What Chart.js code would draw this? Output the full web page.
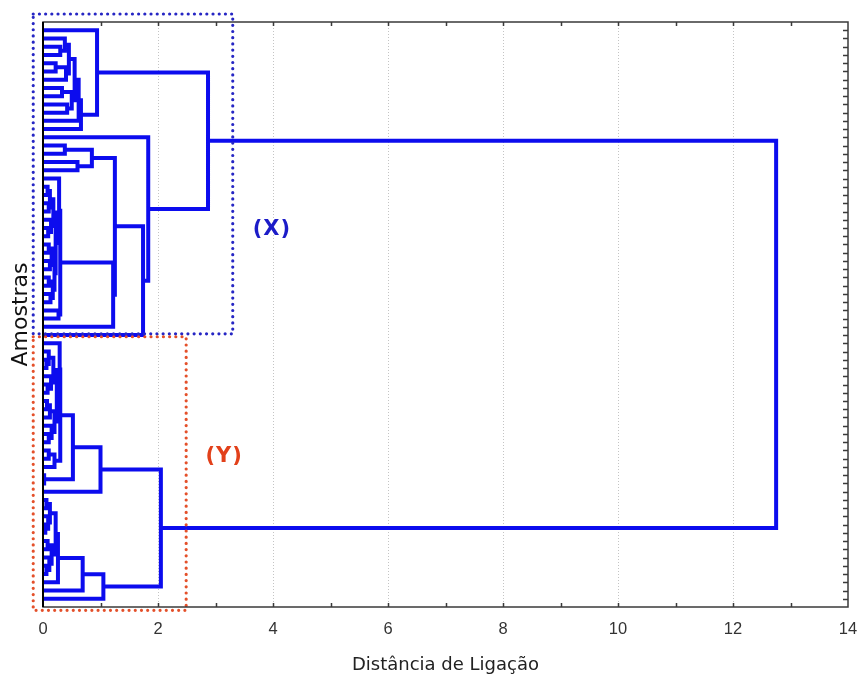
<!DOCTYPE html>
<html>
<head>
<meta charset="utf-8">
<script src="https://cdn.jsdelivr.net/npm/chart.js@4.4.1/dist/chart.umd.min.js"></script>
<style>
  html, body { margin: 0; padding: 0; background: #ffffff; }
  #wrap { width: 858px; height: 677px; }
</style>
</head>
<body>
<div id="wrap"><canvas id="dendro" width="858" height="677"></canvas></div>
<script>
// Linkage tree: a node is [linkage distance, upper branch, lower branch]; 0 is one sample.
const branchA = [0.94, 0, [0.66, [0.62, [0.55,
  [0.45, [0.38, 0, [0.30, 0, 0]], [0.40, [0.22, 0, 0], 0]],
  [0.50, [0.33, 0, 0], [0.42, 0, 0]]], 0], 0]];

const branchB = [1.83, 0, [1.74, [1.25,
  [0.85, [0.38, 0, 0], [0.60, 0, 0]],
  [1.22, [0.30, [0.28, 0, [0.22,
      [0.18, [0.12, [0.08, 0, 0], [0.10, 0, 0]], [0.14, 0, [0.09, 0, 0]]],
      [0.20, [0.15, [0.10, 0, 0], [0.12, 0, 0]], [0.17, [0.10, 0, 0], [0.13, 0, 0]]]]],
    [0.27, 0, 0]], 0]], 0]];

const branchC = [1.00, [0.52, [0.30,
  [0.29, 0, [0.24,
    [0.18, [0.10, 0, [0.06, 0, 0]], [0.14, 0, [0.08, 0, 0]]],
    [0.20, [0.12, [0.07, 0, 0], 0], [0.15, 0, [0.10, 0, 0]]]]],
  [0.20, [0.10, 0, 0], 0]], [0.02, 0, 0]], 0];

const branchD = [1.05, [0.69, [0.26, [0.22,
  [0.12, [0.06, 0, 0], [0.09, 0, [0.04, 0, 0]]],
  [0.15, [0.08, 0, 0], [0.11, 0, [0.06, 0, 0]]]], 0], 0], 0];

const groupX = [2.87, branchA, branchB];
const groupY = [2.05, branchC, branchD];
const fullTree = [12.75, groupX, groupY];

const xTickValues = [0, 2, 4, 6, 8, 10, 12, 14];
const groupNames = ['(X)', '(Y)'];

// Walk the tree: samples get consecutive rows, each merge sits halfway between its branches.
function layoutTree(root) {
  let row = 1;
  const links = [];
  function walk(node) {
    if (!Array.isArray(node)) return { h: 0, y: row++ };
    const [h, upper, lower] = node;
    const a = walk(upper);
    const b = walk(lower);
    links.push([
      { x: a.h, y: a.y }, { x: h, y: a.y },
      { x: h, y: b.y }, { x: b.h, y: b.y }
    ]);
    return { h, y: (a.y + b.y) / 2 };
  }
  walk(root);
  return { links, leaves: row - 1 };
}

const tree = layoutTree(fullTree);
const linkPoints = [];
tree.links.forEach(l => {
  linkPoints.push(...l);
  linkPoints.push({ x: l[3].x, y: null });
});

const BLUE = '#0c0cee';
const FRAME = '#3a3a3a';

// Frame, inward ticks, group outlines and group captions
const decorations = {
  id: 'decorations',
  afterDraw(chart) {
    const { ctx, chartArea: a, scales: { x, y } } = chart;
    ctx.save();
    // group outlines (dotted)
    const boxes = [
      { x0: -0.17, x1: 3.30, y0: -0.97, y1: 37.85, color: '#2626c4' },
      { x0: -0.17, x1: 2.49, y0: 38.2, y1: 71.4, color: '#e4502a' }
    ];
    boxes.forEach(b => {
      const l = x.getPixelForValue(b.x0), r = x.getPixelForValue(b.x1);
      const t = y.getPixelForValue(b.y0), bt = y.getPixelForValue(b.y1);
      ctx.strokeStyle = b.color;
      ctx.lineWidth = 3.2;
      ctx.lineCap = 'round';
      ctx.setLineDash([0, 6.2]);
      ctx.beginPath();
      ctx.moveTo(l, t); ctx.lineTo(r, t); ctx.lineTo(r, bt); ctx.lineTo(l, bt); ctx.closePath();
      ctx.stroke();
    });
    ctx.setLineDash([]);
    ctx.lineCap = 'butt';

    // frame
    ctx.strokeStyle = FRAME;
    ctx.lineWidth = 1.5;
    ctx.strokeRect(a.left, a.top, a.right - a.left, a.bottom - a.top);
    ctx.strokeStyle = '#000';
    ctx.lineWidth = 2;
    ctx.beginPath();
    ctx.moveTo(a.left, a.top); ctx.lineTo(a.left, a.bottom);
    ctx.stroke();

    // minor ticks on top and bottom, one per unit
    ctx.strokeStyle = FRAME;
    ctx.lineWidth = 1.5;
    ctx.beginPath();
    for (let v = x.min + 1; v < x.max; v++) {
      const px = Math.round(x.getPixelForValue(v)) + 0.5;
      ctx.moveTo(px, a.top); ctx.lineTo(px, a.top + 4);
      ctx.moveTo(px, a.bottom); ctx.lineTo(px, a.bottom - 4);
    }
    // one tick per sample on the right edge
    for (let r = 1; r <= tree.leaves; r++) {
      const py = Math.round(y.getPixelForValue(r)) + 0.5;
      ctx.moveTo(a.right, py); ctx.lineTo(a.right - 5, py);
    }
    ctx.stroke();

    // captions
    ctx.font = 'bold 21px "DejaVu Sans"';
    ctx.letterSpacing = '1px';
    ctx.textAlign = 'center';
    ctx.textBaseline = 'middle';
    ctx.fillStyle = '#1c1cc8';
    ctx.fillText(groupNames[0], x.getPixelForValue(3.98), y.getPixelForValue(25.2));
    ctx.fillStyle = '#e2401a';
    ctx.fillText(groupNames[1], x.getPixelForValue(3.15), y.getPixelForValue(52.7));
    ctx.restore();
  }
};

new Chart(document.getElementById('dendro'), {
  type: 'line',
  data: {
    datasets: [{
      data: linkPoints,
      borderColor: BLUE,
      borderWidth: 4,
      pointRadius: 0,
      tension: 0,
      spanGaps: false,
      borderJoinStyle: 'miter',
      borderCapStyle: 'butt',
      fill: false
    }]
  },
  options: {
    responsive: false,
    animation: false,
    events: [],
    layout: { padding: { top: 22, right: 10, left: 0, bottom: 0 } },
    plugins: { legend: { display: false }, tooltip: { enabled: false } },
    scales: {
      x: {
        type: 'linear',
        min: 0,
        max: 14,
        afterBuildTicks(scale) { scale.ticks = xTickValues.map(v => ({ value: v })); },
        afterFit(scale) {
          scale.height = 70;
          scale.paddingLeft = 0;
          scale.paddingRight = 0;
        },
        ticks: {
          color: '#333',
          padding: 13,
          font: { family: '"Liberation Sans Narrow", "Liberation Sans"', size: 16.5 },
          callback: v => String(v)
        },
        grid: {
          drawTicks: false,
          lineWidth: 1,
          color: c => (c.tick && c.tick.value > 0 && c.tick.value < 14) ? '#c4c4c4' : 'rgba(0,0,0,0)'
        },
        border: { display: false, dash: [1, 2] },
        title: {
          display: true,
          text: 'Distância de Ligação',
          color: '#222',
          font: { family: '"DejaVu Sans"', size: 18 },
          padding: { top: 0, bottom: 1 }
        }
      },
      y: {
        type: 'linear',
        reverse: true,
        min: 0,
        max: tree.leaves + 1,
        afterFit(scale) { scale.width = 43; },
        ticks: { display: false },
        grid: { display: false, drawTicks: false },
        border: { display: false },
        title: {
          display: true,
          text: 'Amostras',
          color: '#111',
          font: { family: '"DejaVu Sans"', size: 22 },
          padding: { top: 8, bottom: 0 }
        }
      }
    }
  },
  plugins: [decorations]
});
</script>
</body>
</html>
